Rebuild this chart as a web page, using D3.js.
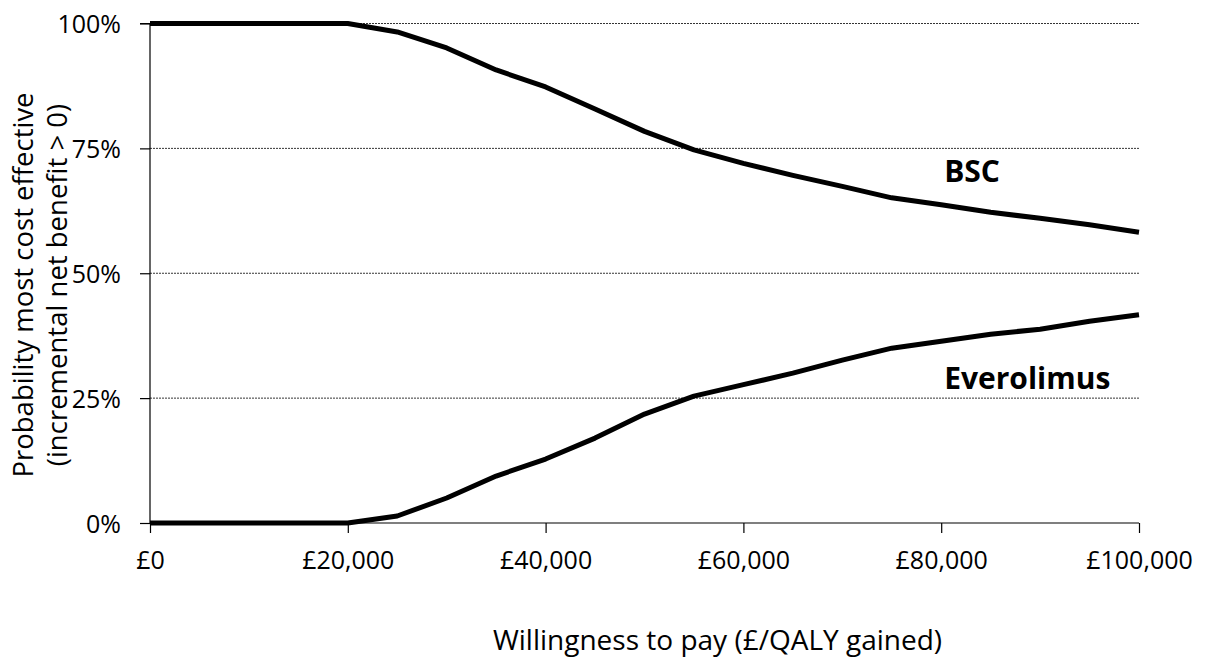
<!DOCTYPE html>
<html>
<head>
<meta charset="utf-8">
<script src="https://cdn.jsdelivr.net/npm/d3@7"></script>
<style>
  body { margin: 0; background: #fff; }
  text { font-family: "Open Sans", "Noto Sans", sans-serif; fill: #000; }
</style>
</head>
<body>
<svg width="1206" height="659"></svg>
<script>
const svg = d3.select("svg"),
  width = 1206,
  height = 659;

// Data
const wtp = [0, 5000, 10000, 15000, 20000, 25000, 30000, 35000, 40000, 45000, 50000,
  55000, 60000, 65000, 70000, 75000, 80000, 85000, 90000, 95000, 100000];
const bsc = [100, 100, 100, 100, 100, 98.3, 95.1, 90.7, 87.3, 82.9, 78.4,
  74.7, 72.0, 69.6, 67.4, 65.1, 63.7, 62.2, 61.0, 59.7, 58.2];
const everolimus = [0, 0, 0, 0, 0, 1.4, 5.0, 9.4, 12.8, 17.0, 21.8,
  25.4, 27.7, 30.0, 32.6, 35.0, 36.4, 37.8, 38.8, 40.4, 41.7];
const xTicks = [0, 20000, 40000, 60000, 80000, 100000];
const yTicks = [0, 25, 50, 75, 100];
// label anchors (text baseline) in data units
const seriesLabels = [
  { name: "BSC", x: 80300, y: 68.3 },
  { name: "Everolimus", x: 80300, y: 26.8 },
];

// Scales
const x = d3.scaleLinear().domain([0, 100000]).range([150, 1139]);
const y = d3.scaleLinear().domain([0, 100]).range([523, 23.5]);

const fmtMoney = (d) => "£" + d3.format(",")(d);

// Gridlines
svg.append("g")
  .selectAll("line")
  .data(yTicks.filter((d) => d > 0))
  .join("line")
  .attr("x1", x(0))
  .attr("x2", x(100000))
  .attr("y1", (d) => y(d))
  .attr("y2", (d) => y(d))
  .attr("stroke", "#000")
  .attr("stroke-width", 0.8)
  .attr("stroke-dasharray", "2,1");

// Axes
const yAxis = svg.append("g")
  .attr("transform", `translate(${x(0)},0)`)
  .call(d3.axisLeft(y).tickValues(yTicks).tickFormat((d) => d + "%").tickSize(10).tickPadding(19));
const xAxis = svg.append("g")
  .attr("transform", `translate(0,${y(0)})`)
  .call(d3.axisBottom(x).tickValues(xTicks).tickFormat(fmtMoney).tickSize(10).tickPadding(18));

[yAxis, xAxis].forEach((a) => {
  a.select(".domain").attr("stroke", "#000").attr("stroke-width", 1.2);
  a.selectAll(".tick line").attr("stroke", "#000").attr("stroke-width", 1.2);
  a.selectAll(".tick text").style("font-size", "25px").attr("fill", "#000");
});
yAxis.select(".domain").attr("d", `M-10,${y(100)}H0V${y(0)}`);
xAxis.select(".domain").attr("d", `M${x(0)},0H${x(100000)}`);
xAxis.selectAll(".tick text").attr("dy", "0.71em");
yAxis.selectAll(".tick text").attr("dy", "0.36em");

// Lines
const line = d3.line()
  .x((d, i) => x(wtp[i]))
  .y((d) => y(d));

[bsc, everolimus].forEach((s) => {
  svg.append("path")
    .datum(s)
    .attr("fill", "none")
    .attr("stroke", "#000")
    .attr("stroke-width", 5)
    .attr("stroke-linejoin", "round")
    .attr("d", line);
});

// Series labels
svg.append("g")
  .selectAll("text")
  .data(seriesLabels)
  .join("text")
  .attr("x", (d) => x(d.x))
  .attr("y", (d) => y(d.y))
  .style("font-size", "30px")
  .style("font-weight", "bold")
  .text((d) => d.name);

// Axis titles
svg.append("text")
  .attr("x", (x(0) + x(100000)) / 2 + 73)
  .attr("y", 650)
  .attr("text-anchor", "middle")
  .style("font-size", "28px")
  .text("Willingness to pay (£/QALY gained)");

const yTitle = svg.append("text")
  .attr("transform", `translate(33,285) rotate(-90)`)
  .attr("text-anchor", "middle")
  .style("font-size", "27.5px");
yTitle.append("tspan").attr("x", 0).attr("dy", 0).text("Probability most cost effective");
yTitle.append("tspan").attr("x", 0).attr("dy", 34).text("(incremental net benefit > 0)");
</script>
</body>
</html>
